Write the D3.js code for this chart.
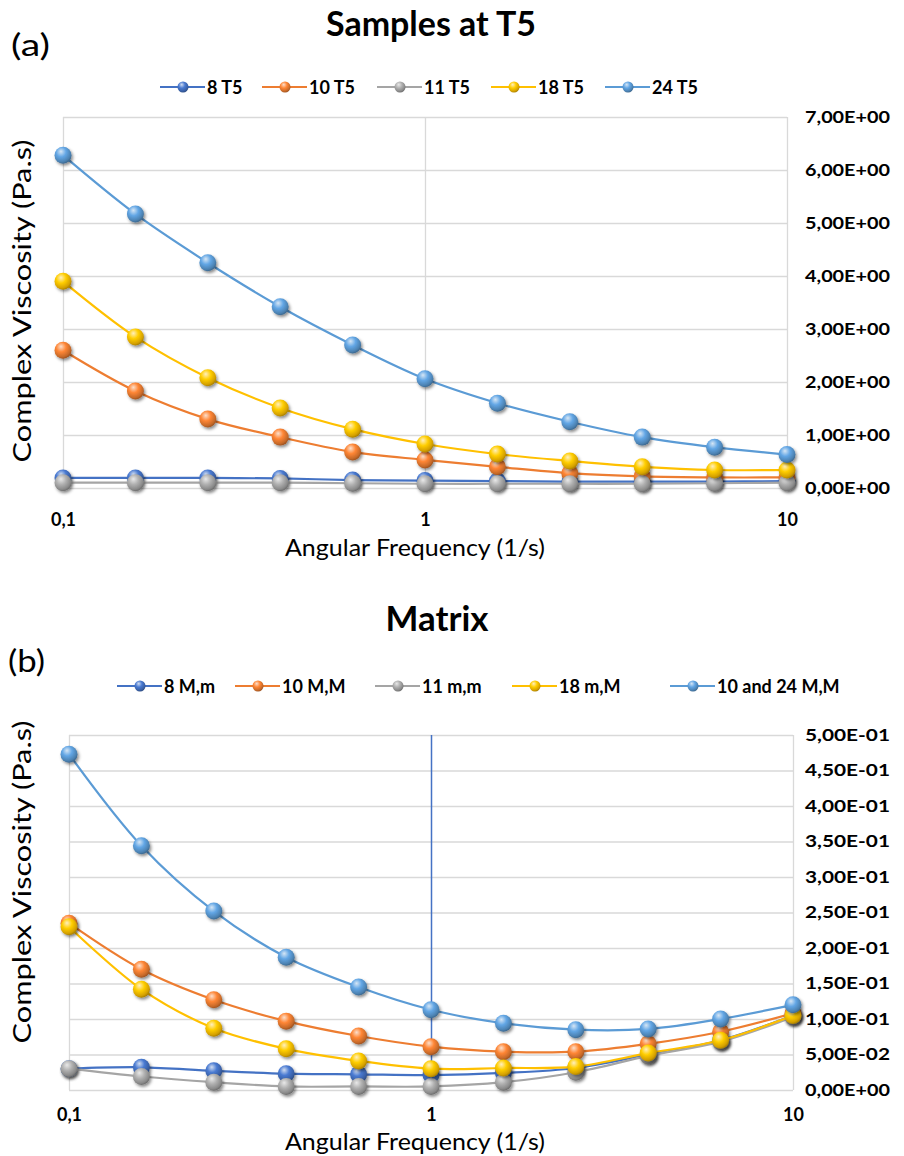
<!DOCTYPE html>
<html>
<head>
<meta charset="utf-8">
<script src="https://cdn.jsdelivr.net/npm/d3@7"></script>
<style>
  html, body { margin: 0; padding: 0; background: #fff; }
  svg { display: block; }
  text { font-family: Lato, "Open Sans", sans-serif; fill: #000; }
</style>
</head>
<body>
<svg id="chart" width="904" height="1156"></svg>
<script>
// ---------- DATA ----------
const frequency = [0.1, 0.1585, 0.2512, 0.3981, 0.631, 1, 1.585, 2.512, 3.981, 6.31, 10];

const namesA = ["8 T5", "10 T5", "11 T5", "18 T5", "24 T5"];
const a8T5  = [0.19, 0.19, 0.19, 0.18, 0.15, 0.14, 0.13, 0.12, 0.12, 0.12, 0.13];
const a10T5 = [2.6, 1.83, 1.3, 0.96, 0.68, 0.53, 0.4, 0.28, 0.22, 0.2, 0.2];
const a11T5 = [0.1, 0.1, 0.1, 0.1, 0.09, 0.08, 0.08, 0.08, 0.08, 0.09, 0.1];
const a18T5 = [3.9, 2.85, 2.08, 1.51, 1.11, 0.83, 0.64, 0.51, 0.4, 0.34, 0.34];
const a24T5 = [6.28, 5.17, 4.25, 3.42, 2.7, 2.06, 1.6, 1.25, 0.96, 0.77, 0.63];

const namesB = ["8 M,m", "10 M,M", "11 m,m", "18 m,M", "10 and 24 M,M"];
const b8Mm    = [0.03, 0.032, 0.027, 0.023, 0.022, 0.021, 0.024, 0.031, 0.05, 0.07, 0.105];
const b10MM   = [0.235, 0.17, 0.127, 0.097, 0.076, 0.061, 0.054, 0.054, 0.065, 0.082, 0.108];
const b11mm   = [0.03, 0.019, 0.011, 0.005, 0.005, 0.005, 0.011, 0.025, 0.048, 0.068, 0.103];
const b18mM   = [0.23, 0.142, 0.087, 0.058, 0.041, 0.03, 0.031, 0.033, 0.052, 0.07, 0.105];
const b1024MM = [0.473, 0.344, 0.252, 0.187, 0.145, 0.113, 0.094, 0.085, 0.086, 0.1, 0.12];

const yTicksA = [0, 1, 2, 3, 4, 5, 6, 7];
const yLabelsA = ["0,00E+00", "1,00E+00", "2,00E+00", "3,00E+00", "4,00E+00", "5,00E+00", "6,00E+00", "7,00E+00"];
const yTicksB = [0, 0.05, 0.1, 0.15, 0.2, 0.25, 0.3, 0.35, 0.4, 0.45, 0.5];
const yLabelsB = ["0,00E+00", "5,00E-02", "1,00E-01", "1,50E-01", "2,00E-01", "2,50E-01", "3,00E-01", "3,50E-01", "4,00E-01", "4,50E-01", "5,00E-01"];
const xTicks = [0.1, 1, 10];
const xLabels = ["0,1", "1", "10"];

const seriesColors = ["#4472C4", "#ED7D31", "#A5A5A5", "#FFC000", "#5B9BD5"];

// ---------- SETUP ----------
const svg = d3.select("#chart");
const defs = svg.append("defs");

const filt = defs.append("filter").attr("id", "shadow")
  .attr("x", "-50%").attr("y", "-50%").attr("width", "200%").attr("height", "200%");
filt.append("feDropShadow").attr("dx", 1.5).attr("dy", 2).attr("stdDeviation", 1.6)
  .attr("flood-color", "#000").attr("flood-opacity", 0.45);

seriesColors.forEach((c, i) => {
  const base = d3.color(c);
  const g = defs.append("radialGradient").attr("id", "sph" + i)
    .attr("cx", "40%").attr("cy", "35%").attr("r", "65%").attr("fx", "38%").attr("fy", "28%");
  g.append("stop").attr("offset", "0%").attr("stop-color", d3.interpolateRgb(c, "#fff")(0.75));
  g.append("stop").attr("offset", "45%").attr("stop-color", base.brighter(0.2).formatHex());
  g.append("stop").attr("offset", "85%").attr("stop-color", base.darker(0.5).formatHex());
  g.append("stop").attr("offset", "100%").attr("stop-color", base.darker(1.1).formatHex());
});

function drawChart(cfg) {
  const x = d3.scaleLog().domain([0.1, 10]).range([cfg.x0, cfg.x1]);
  const y = d3.scaleLinear().domain(cfg.yDomain).range([cfg.yBottom, cfg.yTop]);
  const g = svg.append("g");

  // horizontal gridlines
  g.append("g").attr("transform", `translate(${cfg.x0},0)`)
    .call(d3.axisLeft(y).tickValues(cfg.yTicks).tickSize(-(cfg.x1 - cfg.x0)).tickFormat(""))
    .call(s => s.select(".domain").remove())
    .call(s => s.selectAll(".tick line").attr("stroke", "#D9D9D9").attr("stroke-width", 1.3));

  // vertical gridlines
  g.append("g").attr("transform", `translate(0,${cfg.yBottom})`)
    .call(d3.axisTop(x).tickValues(xTicks).tickSize(cfg.yBottom - cfg.yTop).tickFormat(""))
    .call(s => s.select(".domain").remove())
    .call(s => s.selectAll(".tick line")
      .attr("stroke", d => (d === 1 && cfg.blueOne) ? "#4472C4" : "#D9D9D9")
      .attr("stroke-width", d => (d === 1 && cfg.blueOne) ? 1.5 : 1.3));

  // right y tick labels
  g.append("g").attr("transform", `translate(${cfg.labelX},0)`)
    .call(d3.axisRight(y).tickValues(cfg.yTicks).tickSize(0).tickPadding(0)
      .tickFormat((d, i) => cfg.yLabels[i]))
    .call(s => s.select(".domain").remove())
    .call(s => s.selectAll(".tick text")
      .style("font-family", "Lato, sans-serif").style("font-weight", "bold")
      .style("font-size", "17px").attr("fill", "#000")
      .attr("textLength", 85).attr("lengthAdjust", "spacingAndGlyphs"));

  // x tick labels
  g.append("g").attr("transform", `translate(0,${cfg.xLabelY})`)
    .call(d3.axisBottom(x).tickValues(xTicks).tickSize(0).tickPadding(0)
      .tickFormat((d, i) => xLabels[i]))
    .call(s => s.select(".domain").remove())
    .call(s => s.selectAll(".tick text")
      .style("font-family", "Lato, sans-serif").style("font-weight", "bold")
      .style("font-size", "18px").attr("fill", "#000").attr("y", 0).attr("dy", 0));

  // series
  const line = d3.line().x((d, i) => x(frequency[i])).y(d => y(d)).curve(d3.curveCatmullRom.alpha(0.5));
  cfg.series.forEach((vals, si) => {
    g.append("path").datum(vals).attr("d", line)
      .attr("fill", "none").attr("stroke", seriesColors[si]).attr("stroke-width", 2.2);
    g.append("g").selectAll("circle").data(vals).join("circle")
      .attr("cx", (d, i) => x(frequency[i])).attr("cy", d => y(d)).attr("r", 8.5)
      .attr("fill", `url(#sph${si})`).attr("filter", "url(#shadow)");
  });

  // title
  g.append("text").attr("x", cfg.titleX).attr("y", cfg.titleY).attr("text-anchor", "middle")
    .style("font-weight", "bold").style("font-size", "34px")
    .attr("textLength", cfg.titleLen).attr("lengthAdjust", "spacingAndGlyphs").text(cfg.title);
  // panel letter
  g.append("text").attr("x", cfg.letterX).attr("y", cfg.letterY)
    .style("font-size", "31px").attr("textLength", cfg.letterLen).attr("lengthAdjust", "spacingAndGlyphs")
    .text(cfg.letter);

  // legend
  const lg = g.append("g");
  cfg.legendX.forEach((mx, i) => {
    lg.append("line").attr("x1", mx - 23).attr("x2", mx + 22).attr("y1", cfg.legendY).attr("y2", cfg.legendY)
      .attr("stroke", seriesColors[i]).attr("stroke-width", 2.2);
    lg.append("circle").attr("cx", mx).attr("cy", cfg.legendY).attr("r", 5.5)
      .attr("fill", `url(#sph${i})`);
    lg.append("text").attr("x", mx + 24).attr("y", cfg.legendY + 6.5)
      .style("font-weight", "bold").style("font-size", "18px")
      .text(cfg.names[i]);
  });

  // axis titles
  g.append("text").attr("x", cfg.xTitleX).attr("y", cfg.xTitleY).attr("text-anchor", "middle")
    .style("font-size", "24px").attr("textLength", 260).attr("lengthAdjust", "spacingAndGlyphs")
    .text("Angular Frequency (1/s)");
  g.append("text").attr("transform", `translate(${cfg.yTitleX},${cfg.yTitleY}) rotate(-90)`)
    .attr("text-anchor", "middle").style("font-size", "25px")
    .attr("textLength", 323).attr("lengthAdjust", "spacingAndGlyphs")
    .text("Complex Viscosity (Pa.s)");
}

drawChart({
  x0: 63, x1: 787, yTop: 117, yBottom: 488, yDomain: [0, 7],
  yTicks: yTicksA, yLabels: yLabelsA, labelX: 805, xLabelY: 526, blueOne: false,
  series: [a8T5, a10T5, a11T5, a18T5, a24T5], names: namesA,
  title: "Samples at T5", titleX: 431, titleY: 36, titleLen: 210,
  letter: "(a)", letterX: 11, letterY: 56, letterLen: 39,
  legendX: [183, 285, 400, 514, 628], legendY: 87,
  xTitleX: 415, xTitleY: 556, yTitleX: 31, yTitleY: 301
});

drawChart({
  x0: 69, x1: 793, yTop: 735, yBottom: 1090, yDomain: [0, 0.5],
  yTicks: yTicksB, yLabels: yLabelsB, labelX: 805, xLabelY: 1121, blueOne: true,
  series: [b8Mm, b10MM, b11mm, b18mM, b1024MM], names: namesB,
  title: "Matrix", titleX: 437, titleY: 631, titleLen: 103,
  letter: "(b)", letterX: 8, letterY: 672, letterLen: 37,
  legendX: [140, 258, 398, 535, 693], legendY: 686,
  xTitleX: 415, xTitleY: 1150, yTitleX: 31, yTitleY: 882
});
</script>
</body>
</html>
